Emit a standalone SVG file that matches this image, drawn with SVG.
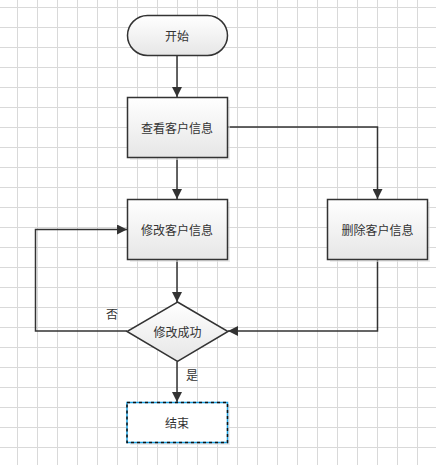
<svg xmlns="http://www.w3.org/2000/svg" width="436" height="465" viewBox="0 0 436 465">
<defs>
<pattern id="grid" x="17" y="7" width="20" height="20" patternUnits="userSpaceOnUse">
<path d="M0.5 0V20M0 0.5H20" fill="none" stroke="#d9d9d9" stroke-width="1"/>
</pattern>
<linearGradient id="fill" x1="0" y1="0" x2="0" y2="1">
<stop offset="0" stop-color="#ffffff"/>
<stop offset="1" stop-color="#e6e6e6"/>
</linearGradient>
<marker id="arr" viewBox="0 0 10 10" refX="10" refY="5" markerWidth="10" markerHeight="10" markerUnits="userSpaceOnUse" orient="auto">
<path d="M0 0L10 5L0 10Z" fill="#333"/>
</marker>
</defs>
<style>
.shape{fill:url(#fill);stroke:#333;stroke-width:1.5}
.shadow{fill:#e0e0e0;opacity:0.6}
.lbl{font-family:"Noto Sans CJK SC","Liberation Sans",sans-serif;font-size:12px;fill:#333;text-anchor:middle;dominant-baseline:central}
.conn{fill:none;stroke:#333;stroke-width:1.5}
</style>
<rect width="436" height="465" fill="#fff"/>
<rect width="436" height="465" fill="url(#grid)"/>
<g id="connectors">
<path class="conn" d="M177 55V97" marker-end="url(#arr)"/>
<path class="conn" d="M177 157V199" marker-end="url(#arr)"/>
<path class="conn" d="M227 127H377.5V199" marker-end="url(#arr)"/>
<path class="conn" d="M177 259V302" marker-end="url(#arr)"/>
<path class="conn" d="M377.5 259V331H228" marker-end="url(#arr)"/>
<path class="conn" d="M127 331H35.5V229.5H127" marker-end="url(#arr)"/>
<path class="conn" d="M177 361.5V402" marker-end="url(#arr)"/>
<text class="lbl" x="112" y="313">否</text>
<text class="lbl" x="192" y="374">是</text>
</g>
<g id="start">
<rect class="shape" x="127.5" y="15.5" width="100" height="40" rx="20" ry="20"/>
<text class="lbl" x="177" y="35">开始</text>
</g>
<g id="view">
<rect class="shadow" x="130" y="100" width="100" height="60"/>
<rect class="shape" x="127.5" y="97.5" width="100" height="60"/>
<text class="lbl" x="177" y="127.5">查看客户信息</text>
</g>
<g id="modify">
<rect class="shadow" x="130" y="202" width="100" height="60"/>
<rect class="shape" x="127.5" y="199.5" width="100" height="60"/>
<text class="lbl" x="177" y="229.5">修改客户信息</text>
</g>
<g id="delete">
<rect class="shadow" x="330" y="202" width="100" height="60"/>
<rect class="shape" x="327.5" y="199.5" width="100" height="60"/>
<text class="lbl" x="377.5" y="229.5">删除客户信息</text>
</g>
<g id="decision">
<path class="shape" d="M177.5 302L228 331.5L177.5 361.5L127 331.5Z"/>
<text class="lbl" x="177.5" y="331">修改成功</text>
</g>
<g id="end">
<rect class="shadow" x="130" y="405" width="100" height="40"/>
<rect x="127" y="402.5" width="100.5" height="40" fill="#fff" stroke="#1ba1e2" stroke-width="1.5"/>
<rect x="127" y="402.5" width="100.5" height="40" fill="none" stroke="#111" stroke-width="1.5" stroke-dasharray="3 3"/>
<text class="lbl" x="177" y="422.5">结束</text>
</g>
</svg>
